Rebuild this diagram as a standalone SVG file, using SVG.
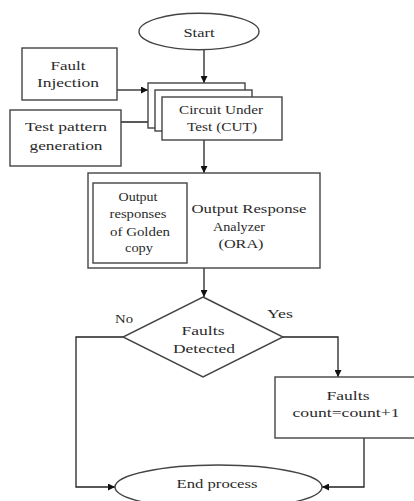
<svg xmlns="http://www.w3.org/2000/svg" width="414" height="501" viewBox="0 0 414 501">
<style>
.s{fill:#fff;stroke:#444;stroke-width:1.4}
.c{fill:none;stroke:#222;stroke-width:1.3}
text{font-family:'Liberation Serif','DejaVu Serif',serif;font-size:13px;fill:#2a2a2a;text-anchor:middle}
</style>
<defs>
<marker id="a" viewBox="0 0 10 10" refX="10" refY="5" markerWidth="7" markerHeight="7" markerUnits="userSpaceOnUse" orient="auto">
<path d="M0,0L10,5L0,10z" fill="#111"/>
</marker>
</defs>
<rect width="414" height="501" fill="#fff"/>
<g id="connectors">
<line class="c" x1="204" y1="50" x2="204" y2="83" marker-end="url(#a)"/>
<line class="c" x1="117" y1="90" x2="148" y2="90" marker-end="url(#a)"/>
<line class="c" x1="121" y1="122" x2="155" y2="122" marker-end="url(#a)"/>
<line class="c" x1="204" y1="140" x2="204" y2="173" marker-end="url(#a)"/>
<line class="c" x1="204" y1="268" x2="204" y2="297" marker-end="url(#a)"/>
<polyline class="c" points="283,337 338,337 338,377" marker-end="url(#a)"/>
<polyline class="c" points="123,337 76,337 76,487 115,487" marker-end="url(#a)"/>
<polyline class="c" points="364,438 364,487 322,487" marker-end="url(#a)"/>
</g>
<g id="start">
<ellipse class="s" cx="199" cy="31.5" rx="60" ry="18.3"/>
<text x="199" y="37" textLength="31" lengthAdjust="spacingAndGlyphs">Start</text>
</g>
<g id="fault-injection">
<rect class="s" x="22" y="48" width="95" height="52"/>
<text x="68" y="70" textLength="35" lengthAdjust="spacingAndGlyphs">Fault</text>
<text x="68" y="87" textLength="62" lengthAdjust="spacingAndGlyphs">Injection</text>
</g>
<g id="test-pattern">
<rect class="s" x="10" y="110" width="111" height="56"/>
<text x="66" y="131" textLength="82" lengthAdjust="spacingAndGlyphs">Test pattern</text>
<text x="66" y="150" textLength="73" lengthAdjust="spacingAndGlyphs">generation</text>
</g>
<g id="cut">
<rect class="s" x="148" y="83" width="97" height="45"/>
<rect class="s" x="155" y="90" width="97" height="41"/>
<rect class="s" x="162" y="97" width="120" height="43"/>
<text x="221" y="114" textLength="84" lengthAdjust="spacingAndGlyphs">Circuit Under</text>
<text x="222" y="131" textLength="70" lengthAdjust="spacingAndGlyphs">Test (CUT)</text>
</g>
<g id="ora">
<rect class="s" x="88" y="173" width="232" height="95"/>
<text x="249" y="213" textLength="115" lengthAdjust="spacingAndGlyphs">Output Response</text>
<text x="239" y="231" textLength="52" lengthAdjust="spacingAndGlyphs">Analyzer</text>
<text x="241" y="248" textLength="45" lengthAdjust="spacingAndGlyphs">(ORA)</text>
</g>
<g id="golden-copy">
<rect class="s" x="93" y="183" width="94" height="80"/>
<text x="138" y="201" textLength="39" lengthAdjust="spacingAndGlyphs">Output</text>
<text x="138" y="218" textLength="57" lengthAdjust="spacingAndGlyphs">responses</text>
<text x="140" y="236" textLength="60" lengthAdjust="spacingAndGlyphs">of Golden</text>
<text x="139" y="252" textLength="28" lengthAdjust="spacingAndGlyphs">copy</text>
</g>
<g id="decision">
<polygon class="s" points="203,297 283,337 203,377 123,337"/>
<text x="203" y="335" textLength="43" lengthAdjust="spacingAndGlyphs">Faults</text>
<text x="204" y="353" textLength="62" lengthAdjust="spacingAndGlyphs">Detected</text>
<text x="124" y="323" textLength="18" lengthAdjust="spacingAndGlyphs">No</text>
<text x="280" y="318" textLength="26" lengthAdjust="spacingAndGlyphs">Yes</text>
</g>
<g id="count">
<rect class="s" x="275" y="377" width="141" height="61"/>
<text x="348" y="400" textLength="43" lengthAdjust="spacingAndGlyphs">Faults</text>
<text x="346" y="417" textLength="107" lengthAdjust="spacingAndGlyphs">count=count+1</text>
</g>
<g id="end">
<ellipse class="s" cx="218.5" cy="487" rx="103.5" ry="22"/>
<text x="217" y="488" textLength="81" lengthAdjust="spacingAndGlyphs">End process</text>
</g>
</svg>
